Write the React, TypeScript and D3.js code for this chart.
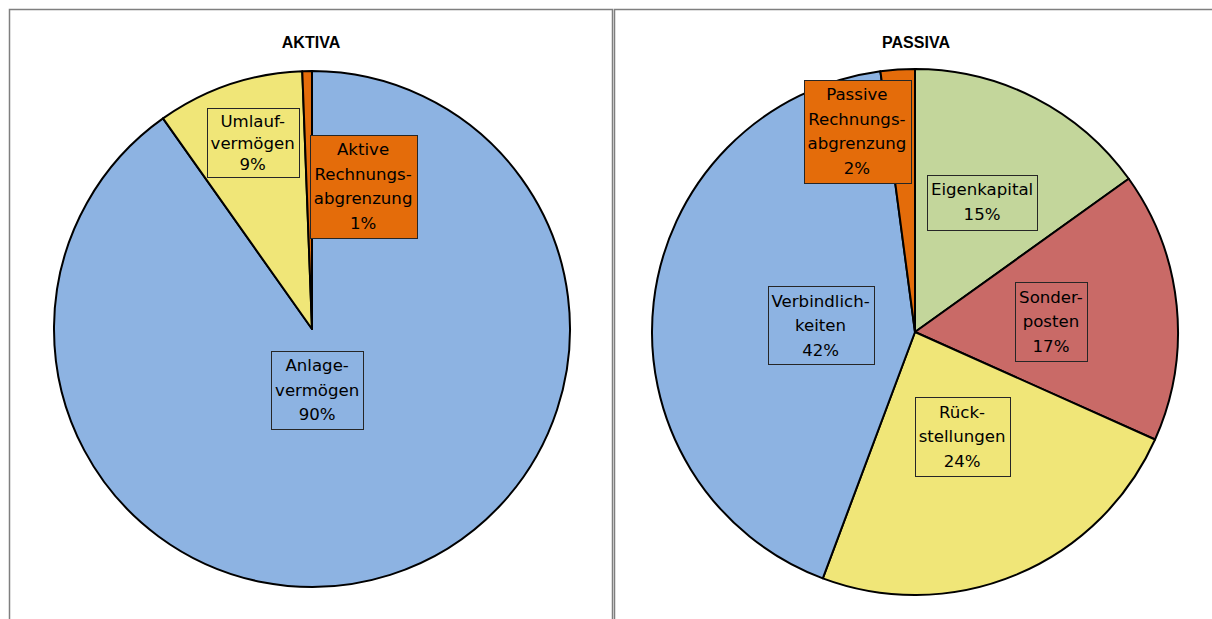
import React, { useEffect, useRef } from "react";
import * as d3 from "d3";

// ---- Data ----
const aktivaTitle = "AKTIVA";
const aktivaCategories = ["Anlage-\nvermögen", "Umlauf-\nvermögen", "Aktive\nRechnungs-\nabgrenzung"];
const aktivaValues = [90.2, 9.2, 0.6];

const passivaTitle = "PASSIVA";
const passivaCategories = [
  "Eigenkapital",
  "Sonder-\nposten",
  "Rück-\nstellungen",
  "Verbindlich-\nkeiten",
  "Passive\nRechnungs-\nabgrenzung",
];
const passivaValues = [15.1, 16.6, 24.0, 42.2, 2.1];

// ---- Styles / layout ----
const aktivaColors = ["#8DB3E2", "#F0E678", "#E46C0A"];
const passivaColors = ["#C3D69B", "#C96A67", "#F0E678", "#8DB3E2", "#E46C0A"];

// label box centre offsets as fraction of radius, and line heights
const aktivaLabelLayout = [
  { dx: 0.02, dy: 0.236, lh: 24.3 },
  { dx: -0.23, dy: -0.722, lh: 21.3 },
  { dx: 0.198, dy: -0.554, lh: 24.5 },
];
const passivaLabelLayout = [
  { dx: 0.255, dy: -0.494, lh: 24.8 },
  { dx: 0.517, dy: -0.04, lh: 24.5 },
  { dx: 0.179, dy: 0.397, lh: 24.5 },
  { dx: -0.359, dy: -0.025, lh: 24.3 },
  { dx: -0.221, dy: -0.764, lh: 24.5 },
];

const FONT = "'DejaVu Sans', Verdana, sans-serif";

export default function App() {
  const ref = useRef<SVGSVGElement | null>(null);

  useEffect(() => {
    const svg = d3.select(ref.current);
    svg.selectAll("*").remove();

    // panel borders
    svg
      .append("path")
      .attr("d", "M9.5,619 V9.5 H612.5 V619")
      .attr("fill", "none")
      .attr("stroke", "#7f7f7f")
      .attr("stroke-width", 1.5);
    svg
      .append("path")
      .attr("d", "M614.5,619 V9.5 H1220")
      .attr("fill", "none")
      .attr("stroke", "#7f7f7f")
      .attr("stroke-width", 1.5);

    function drawPie(
      title: string,
      cats: string[],
      vals: number[],
      colors: string[],
      layout: { dx: number; dy: number; lh: number }[],
      cx: number,
      cy: number,
      r: number,
      titleX: number
    ) {
      const g = svg.append("g");
      g.append("text")
        .attr("x", titleX)
        .attr("y", 48)
        .attr("text-anchor", "middle")
        .attr("font-family", "'Liberation Sans', Arial, sans-serif")
        .attr("font-weight", "bold")
        .attr("font-size", 16)
        .attr("fill", "#000")
        .text(title);

      const total = d3.sum(vals);
      const pie = d3
        .pie<number>()
        .sort(null)
        .value((d) => d)
        .startAngle(0)
        .endAngle(2 * Math.PI);
      const arcs = pie(vals);
      const arc = d3.arc<d3.PieArcDatum<number>>().innerRadius(0).outerRadius(r);

      const pg = g.append("g").attr("transform", `translate(${cx},${cy})`);
      pg.selectAll("path")
        .data(arcs)
        .enter()
        .append("path")
        .attr("d", arc as any)
        .attr("fill", (_d, i) => colors[i])
        .attr("stroke", "#000")
        .attr("stroke-width", 2)
        .attr("stroke-linejoin", "round");

      arcs.forEach((a, i) => {
        const L = layout[i];
        const lines = cats[i].split("\n").concat([`${Math.round((a.value / total) * 100)}%`]);
        const bx = cx + L.dx * r;
        const by = cy + L.dy * r;
        const lg = g.append("g");
        const rect = lg.append("rect");
        const t = lg
          .append("text")
          .attr("font-family", FONT)
          .attr("font-size", 16.6)
          .attr("fill", "#000")
          .attr("text-anchor", "middle");
        const n = lines.length;
        lines.forEach((ln, k) => {
          t.append("tspan")
            .attr("x", bx)
            .attr("y", by + (k - (n - 1) / 2) * L.lh)
            .attr("dy", "0.35em")
            .text(ln);
        });
        let w = 0;
        t.selectAll<SVGTSpanElement, unknown>("tspan").each(function () {
          w = Math.max(w, this.getComputedTextLength());
        });
        const bw = w + 8;
        const bh = n * L.lh + 5;
        rect
          .attr("x", Math.round(bx - bw / 2) + 0.5)
          .attr("y", Math.round(by - bh / 2) + 0.5)
          .attr("width", Math.round(bw))
          .attr("height", Math.round(bh))
          .attr("fill", colors[i])
          .attr("stroke", "#262626")
          .attr("stroke-width", 1);
      });
    }

    drawPie(aktivaTitle, aktivaCategories, aktivaValues, aktivaColors, aktivaLabelLayout, 312, 329, 258, 311);
    drawPie(passivaTitle, passivaCategories, passivaValues, passivaColors, passivaLabelLayout, 915, 332, 263, 916);
  }, []);

  return (
    <svg
      ref={ref}
      width={1212}
      height={619}
      style={{ position: "absolute", left: 0, top: 0, background: "#fff" }}
    />
  );
}
